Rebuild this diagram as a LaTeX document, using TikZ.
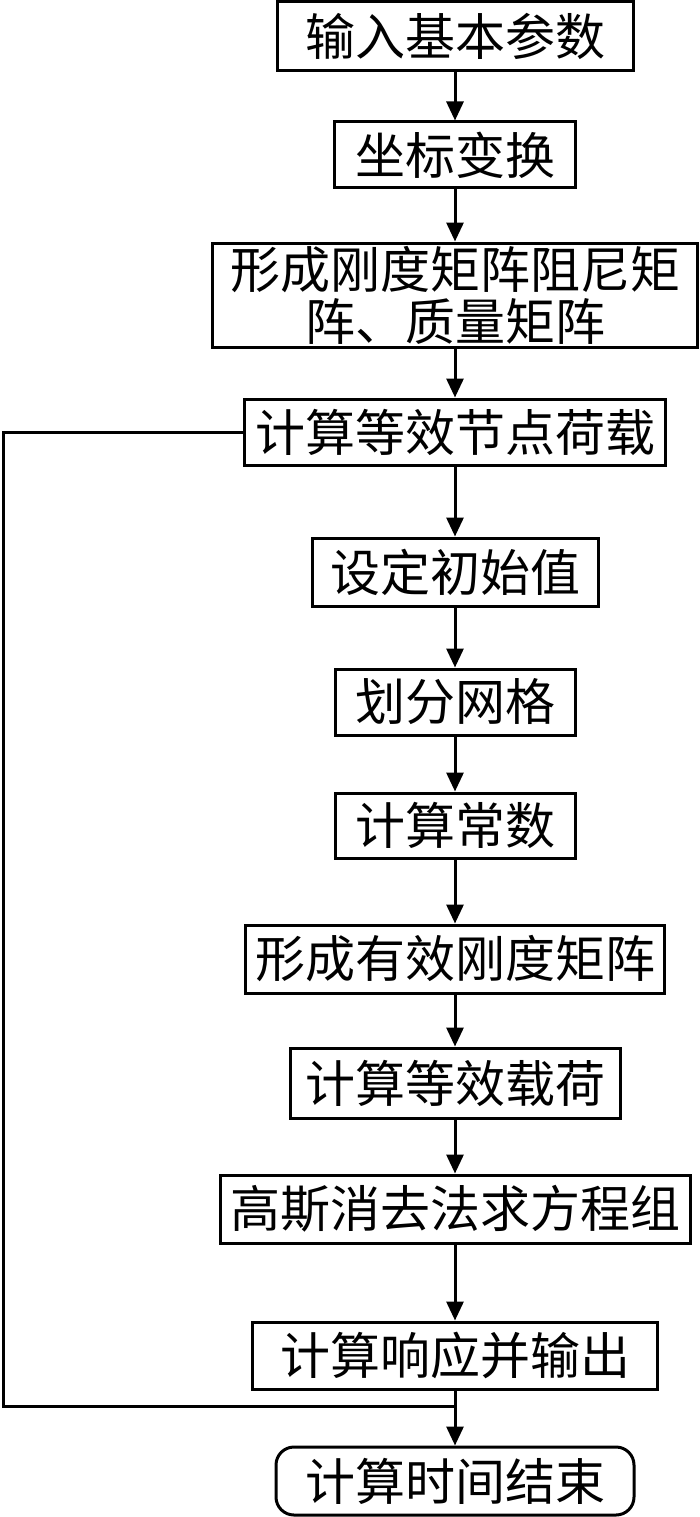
\documentclass[tikz,border=0pt]{standalone}
\usepackage{fontspec}
\newfontfamily\cjk{Noto Sans CJK SC}
\usetikzlibrary{arrows.meta}
\begin{document}
\begin{tikzpicture}[x=1pt,y=-1pt,
  box/.style={draw,line width=3pt,inner sep=0pt,align=center,
    font=\cjk\fontsize{50}{52}\selectfont},
  endbox/.style={box,rounded corners=18pt},
  arr/.style={line width=3pt,-{Triangle[length=19pt,width=17pt]}},
  ln/.style={line width=3pt}]
\useasboundingbox (0,0) rectangle (700,1517);
\node[box,minimum width=356pt,minimum height=69pt] (b1) at (455,36.5) {输入基本参数};
\node[box,minimum width=241pt,minimum height=66pt] (b2) at (455,155) {坐标变换};
\node[box,minimum width=485pt,minimum height=104pt] (b3) at (455,295) {形成刚度矩阵阻尼矩\\阵、质量矩阵};
\node[box,minimum width=421pt,minimum height=66pt] (b4) at (455,432) {计算等效节点荷载};
\node[box,minimum width=286pt,minimum height=68pt] (b5) at (455,572) {设定初始值};
\node[box,minimum width=240pt,minimum height=66pt] (b6) at (455,702) {划分网格};
\node[box,minimum width=240pt,minimum height=65pt] (b7) at (455,825.5) {计算常数};
\node[box,minimum width=419pt,minimum height=68pt] (b8) at (455,959) {形成有效刚度矩阵};
\node[box,minimum width=330pt,minimum height=70pt] (b9) at (455,1083) {计算等效载荷};
\node[box,minimum width=470pt,minimum height=68pt] (b10) at (455,1209) {高斯消去法求方程组};
\node[box,minimum width=405pt,minimum height=67pt] (b11) at (455,1355.5) {计算响应并输出};
\node[endbox,minimum width=358pt,minimum height=68pt] (b12) at (455,1481) {计算时间结束};
\draw[arr] (b1) -- (b2);
\draw[arr] (b2) -- (b3);
\draw[arr] (b3) -- (b4);
\draw[arr] (b4) -- (b5);
\draw[arr] (b5) -- (b6);
\draw[arr] (b6) -- (b7);
\draw[arr] (b7) -- (b8);
\draw[arr] (b8) -- (b9);
\draw[arr] (b9) -- (b10);
\draw[arr] (b10) -- (b11);
\draw[arr] (b11) -- (b12);
\coordinate (lb) at (3,1406);
\coordinate (j) at (455,1406);
\draw[ln] (b4.west) -- (b4.west -| lb) -- (lb) -- (j);
\end{tikzpicture}
\end{document}
